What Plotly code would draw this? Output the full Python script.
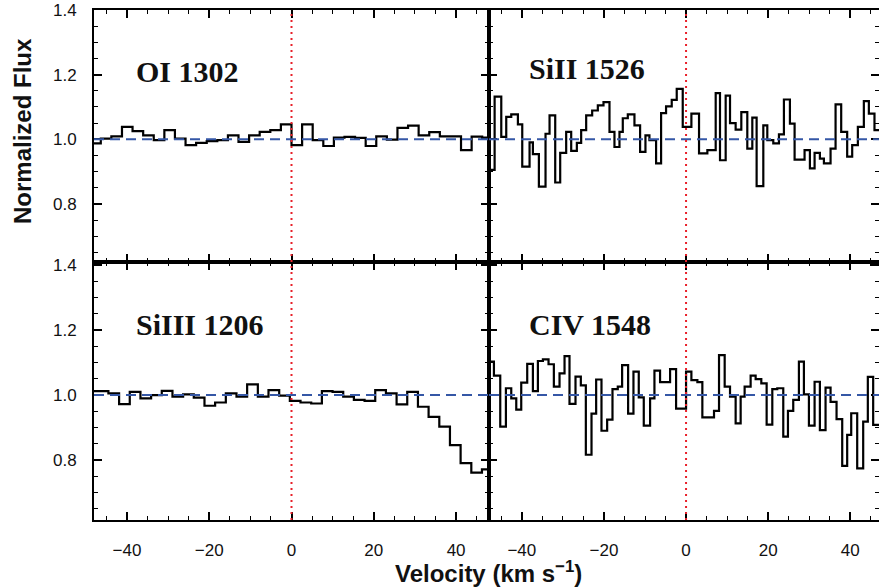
import plotly.graph_objects as go

# ---------------- data (velocity in km/s = left edge of each bin, normalized flux) -------------
OI_V = [-48.9, -46.35, -43.78, -41.20, -38.63, -36.05, -33.48, -30.90, -28.33, -25.75,
        -23.18, -20.60, -18.03, -15.45, -12.88, -10.30, -7.73, -5.15, -2.58, 0.00,
        2.58, 5.15, 7.73, 10.30, 12.88, 15.45, 18.03, 20.60, 23.18, 25.75,
        28.33, 30.90, 33.48, 36.05, 38.63, 41.20, 43.78, 46.35, 48.93]
OI_F = [0.987, 1.002, 1.009, 1.038, 1.025, 1.012, 0.997, 1.028, 1.002, 0.982,
        0.989, 0.994, 0.997, 1.012, 0.992, 1.012, 1.023, 1.028, 1.046, 0.982,
        1.046, 0.997, 0.979, 1.005, 1.007, 1.004, 0.979, 1.009, 0.999, 1.035,
        1.042, 1.012, 1.022, 1.009, 1.009, 0.966, 1.008, 1.005]

SIIII_V = [-49.69, -47.09, -44.50, -41.90, -39.31, -36.71, -34.12, -31.53, -28.93, -26.34,
           -23.75, -21.15, -18.56, -15.96, -13.37, -10.78, -8.18, -5.59, -2.99, -0.40,
           2.19, 4.79, 7.38, 9.98, 12.57, 15.16, 17.76, 20.35, 22.95, 25.54,
           28.13, 30.73, 33.32, 35.92, 38.51, 41.10, 43.70, 46.29, 48.9]
SIIII_F = [1.012, 1.012, 1.005, 0.972, 1.010, 0.990, 1.000, 1.013, 0.995, 1.002,
           0.992, 0.967, 0.977, 1.005, 0.995, 1.033, 0.995, 1.015, 0.998, 0.982,
           0.977, 0.974, 1.012, 1.010, 0.995, 0.985, 0.982, 1.015, 1.005, 0.971,
           1.010, 0.964, 0.933, 0.903, 0.846, 0.790, 0.761, 0.771]

SIII_V = [-48.7, -46.63, -45.01, -43.80, -42.58, -40.96, -39.90, -38.12, -37.31, -35.85,
          -34.23, -33.25, -31.87, -30.66, -29.20, -27.98, -26.60, -25.55, -24.33, -22.87,
          -21.49, -20.11, -18.65, -17.44, -16.22, -15.41, -14.19, -12.57, -11.19, -9.89,
          -8.92, -7.30, -6.08, -4.87, -3.49, -2.27,
          -0.81, 1.30, 3.16, 5.19, 7.22, 8.27, 9.65, 10.71, 12.08, 13.46,
          14.92, 16.14, 17.19, 18.82, 19.79, 21.25, 22.63, 23.84, 25.30, 26.44,
          28.87, 30.17, 31.31, 32.60, 33.58, 35.20, 36.42, 37.79, 39.25, 40.47,
          41.85, 43.31, 44.53, 45.90, 48.0]
SIII_F = [0.905, 1.132, 1.007, 1.069, 1.077, 1.046, 0.915, 0.990, 0.954, 0.853,
          1.017, 1.074, 0.866, 0.958, 1.023, 0.964, 0.989, 1.028, 1.074, 1.089,
          1.105, 1.115, 1.023, 0.976, 1.023, 1.065, 1.077, 1.043, 0.961, 1.012,
          0.997, 0.925, 1.081, 1.102, 1.122, 1.156,
          1.038, 1.079, 0.956, 0.966, 1.143, 0.935, 1.135, 1.050, 1.030, 1.084,
          0.971, 1.067, 0.855, 1.043, 0.997, 0.987, 1.015, 1.123, 1.048, 0.937,
          0.966, 0.910, 0.958, 0.940, 0.925, 0.971, 1.108, 1.023, 0.946, 0.982,
          1.038, 1.118, 1.079, 1.028]

CIV_V = [-48.7, -46.80, -45.26, -43.88, -42.58, -41.36, -40.15, -38.69, -37.31, -36.09,
         -34.87, -33.50, -32.20, -30.82, -29.60, -28.39, -26.93, -25.63, -24.41, -23.03,
         -21.90, -20.60, -19.22, -17.92, -16.63, -15.57, -14.11, -12.81, -11.52, -10.30,
         -8.76, -7.70, -6.33, -3.89, -2.43,
         0.00, 1.30, 2.76, 3.97, 6.81, 8.03, 9.41, 10.71, 12.08, 13.30,
         14.27, 15.73, 16.95, 18.33, 19.63, 21.01, 22.22, 23.68, 24.82, 26.11,
         27.49, 28.71, 29.93, 31.31, 32.60, 33.98, 35.20, 36.66, 38.04, 39.25,
         40.23, 41.69, 43.15, 44.28, 45.58, 48.0]
CIV_F = [1.103, 1.060, 0.903, 1.021, 0.990, 0.955, 1.038, 1.096, 1.012, 1.105,
         1.110, 1.095, 1.026, 1.067, 1.120, 0.973, 1.057, 1.030, 0.816, 0.943,
         1.048, 0.890, 0.924, 1.018, 1.026, 1.092, 0.943, 1.072, 0.993, 0.906,
         0.990, 1.075, 1.040, 1.080, 0.958,
         1.072, 1.046, 1.040, 0.931, 0.951, 1.123, 1.026, 0.995, 0.913, 0.995,
         1.026, 1.060, 1.049, 1.036, 0.909, 1.018, 1.021, 0.872, 0.951, 0.985,
         1.103, 1.002, 0.906, 1.041, 0.892, 1.023, 0.979, 0.926, 0.782, 0.877,
         0.944, 0.774, 0.918, 1.056, 0.908]

PANEL_NAMES = ["OI 1302", "SiII 1526", "SiIII 1206", "CIV 1548"]
CONTINUUM = 1.0
V_ZERO = 0.0
Y_TICKS = [0.8, 1.0, 1.2, 1.4]
Y_TICK_TEXT = ["0.8", "1.0", "1.2", "1.4"]
X_TICKS = [-40, -20, 0, 20, 40]

# ---------------- figure ----------------
W, H = 879, 587
fig = go.Figure()

series = [(OI_V, OI_F, "x", "y"), (SIII_V, SIII_F, "x2", "y2"),
          (SIIII_V, SIIII_F, "x3", "y3"), (CIV_V, CIV_F, "x4", "y4")]
for v, f, xa, ya in series:
    fig.add_trace(go.Scatter(x=v, y=list(f) + [f[-1]], xaxis=xa, yaxis=ya,
                             mode="lines", line=dict(color="black", width=2.2, shape="hv"),
                             showlegend=False, hoverinfo="skip"))

def px_x(p):
    return p / W

def px_y(p):
    return 1 - p / H

XL = [px_x(94), px_x(489)]
XR = [px_x(489), 1.0]
YT = [px_y(262), px_y(10)]
YB = [px_y(520), px_y(262)]

tickfont = dict(family="Liberation Sans, Arial, Helvetica, sans-serif", size=17, color="#111")

def xax(domain, anchor, rng, labels):
    return dict(domain=domain, anchor=anchor, range=rng, showline=True, linecolor="black",
                linewidth=2, mirror="ticks", ticks="inside", ticklen=8, tickwidth=1.5,
                tickcolor="black", tickvals=X_TICKS, showticklabels=labels,
                tickfont=tickfont, ticklabelstandoff=14, showgrid=False, zeroline=False,
                automargin=False,
                minor=dict(dtick=5, ticks="inside", ticklen=4, tickwidth=1.2, tickcolor="black",
                           showgrid=False))

def yax(domain, anchor, rng, labels):
    return dict(domain=domain, anchor=anchor, range=rng, showline=True, linecolor="black",
                linewidth=2, mirror="ticks", ticks="inside", ticklen=8, tickwidth=1.5,
                tickcolor="black", tickvals=Y_TICKS, ticktext=Y_TICK_TEXT,
                showticklabels=labels, tickfont=tickfont, ticklabelstandoff=12,
                showgrid=False, zeroline=False, automargin=False,
                minor=dict(dtick=0.05, tick0=0.6, ticks="inside", ticklen=4, tickwidth=1.2,
                           tickcolor="black", showgrid=False))

fig.update_layout(
    width=W, height=H, margin=dict(l=0, r=0, t=0, b=0, autoexpand=False),
    paper_bgcolor="white", plot_bgcolor="white",
    xaxis=xax(XL, "y", [-48, 48], False),
    yaxis=yax(YT, "x", [0.62, 1.40], True),
    xaxis2=xax(XR, "y2", [-48, 47], False),
    yaxis2=yax(YT, "x2", [0.62, 1.40], False),
    xaxis3=xax(XL, "y3", [-48, 48], True),
    yaxis3=yax(YB, "x3", [0.615, 1.41], True),
    xaxis4=xax(XR, "y4", [-48, 47], True),
    yaxis4=yax(YB, "x4", [0.615, 1.41], False),
)

shapes = []
for xa, ya in [("x", "y"), ("x2", "y2"), ("x3", "y3"), ("x4", "y4")]:
    shapes.append(dict(type="line", xref=f"{xa} domain", yref=ya, x0=0, x1=1,
                       y0=CONTINUUM, y1=CONTINUUM, layer="above",
                       line=dict(color="#3557a6", width=2, dash="10px,6px")))
    shapes.append(dict(type="line", xref=xa, yref=f"{ya} domain", x0=V_ZERO, x1=V_ZERO,
                       y0=0, y1=1, layer="above",
                       line=dict(color="#e8202a", width=2, dash="2px,4px")))
fig.update_layout(shapes=shapes)

label_font = dict(family="Liberation Serif, Times New Roman, serif", size=30, color="#111")
label_pos = [(134, 72), (527, 69), (134, 324), (527, 324)]
annotations = []
for name, (lx, ly) in zip(PANEL_NAMES, label_pos):
    annotations.append(dict(text=f"<b>{name}</b>", xref="paper", yref="paper",
                            x=px_x(lx), y=px_y(ly), xanchor="left", yanchor="middle",
                            showarrow=False, font=label_font))
title_font = dict(family="Liberation Sans, Arial, Helvetica, sans-serif", size=24, color="#111")
annotations.append(dict(text="<b>Normalized Flux</b>", xref="paper", yref="paper",
                        x=px_x(22), y=px_y(131), xanchor="center", yanchor="middle",
                        textangle=-90, showarrow=False, font=title_font))
annotations.append(dict(text="<b>Velocity (km s<sup>−1</sup>)</b>", xref="paper", yref="paper",
                        x=px_x(489), y=px_y(572), xanchor="center", yanchor="middle",
                        showarrow=False, font=dict(title_font, size=24)))
fig.update_layout(annotations=annotations)

fig.write_html("out.html")
